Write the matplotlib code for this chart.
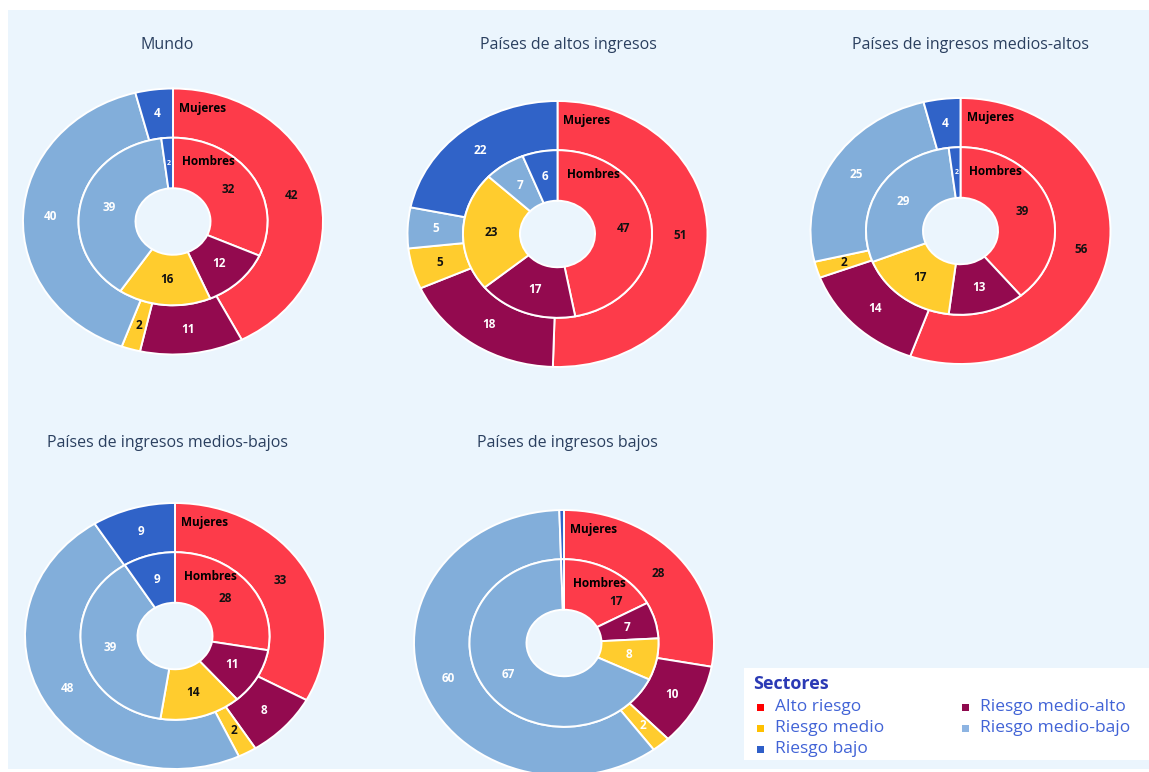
import numpy as np
import matplotlib
matplotlib.use('Agg')
import matplotlib.pyplot as plt
from matplotlib.patches import Rectangle

plt.rcParams['font.family'] = ['Open Sans', 'DejaVu Sans']

W, H = 1149, 772

# datos (porcentajes)
sectores = ['Alto riesgo', 'Riesgo medio-alto', 'Riesgo medio', 'Riesgo medio-bajo', 'Riesgo bajo']
grupos = ['Mundo', 'Países de altos ingresos', 'Países de ingresos medios-altos',
          'Países de ingresos medios-bajos', 'Países de ingresos bajos']

mujeres_mundo = [42, 11, 2, 40, 4]
mujeres_altos = [51, 18, 5, 5, 22]
mujeres_medios_altos = [56, 14, 2, 25, 4]
mujeres_medios_bajos = [33, 8, 2, 48, 9]
mujeres_bajos = [28, 10, 2, 60, 0.5]

hombres_mundo = [32, 12, 16, 39, 2]
hombres_altos = [47, 17, 23, 7, 6]
hombres_medios_altos = [39, 13, 17, 29, 2]
hombres_medios_bajos = [28, 11, 14, 39, 9]
hombres_bajos = [17, 7, 8, 67, 0.5]

mujeres = [mujeres_mundo, mujeres_altos, mujeres_medios_altos, mujeres_medios_bajos, mujeres_bajos]
hombres = [hombres_mundo, hombres_altos, hombres_medios_altos, hombres_medios_bajos, hombres_bajos]

# estilo
colores = ['#FD3B4A', '#930A4F', '#FFCC2E', '#82AEDA', '#3063C8']
colores_leyenda = ['#FF0000', '#8E0A4E', '#FFC000', '#8DB4E2', '#2F5FC8']
texto_oscuro = [True, False, True, False, False]
amarillo_blanco = [False, False, False, False, True]
# etiquetas que plotly desplaza dentro del sector (grafico, anillo, sector)
desplazadas = {(4, 'h', 0): (0.35, 0.31)}

centros = [(173, 221.5), (557.5, 234), (960.5, 231), (175, 636), (564, 643)]
titulos_pos = [(167, 45), (568, 45), (970, 45), (167, 443), (567, 443)]
rx, ry = 150, 133
lim = 1.05

fig = plt.figure(figsize=(W / 100, H / 100), dpi=100, facecolor='white')
fig.patches.append(Rectangle((8 / W, 3 / H), (W - 8) / W, (H - 13) / H,
                             transform=fig.transFigure, facecolor='#EBF5FD',
                             edgecolor='none', zorder=-10))

for i, g in enumerate(grupos):
    cx, cy = centros[i]
    ax = fig.add_axes([(cx - lim * rx) / W, 1 - (cy + lim * ry) / H,
                       2 * lim * rx / W, 2 * lim * ry / H])
    ax.patch.set_alpha(0)
    wp = dict(edgecolor='white', linewidth=1.4)
    wo, _ = ax.pie(mujeres[i], radius=1.0, colors=colores, startangle=90,
                   counterclock=False, wedgeprops=dict(width=0.37, **wp))
    wi, _ = ax.pie(hombres[i], radius=0.63, colors=colores, startangle=90,
                   counterclock=False, wedgeprops=dict(width=0.38, **wp))
    ax.set_aspect('auto')
    ax.set_xlim(-lim, lim)
    ax.set_ylim(-lim, lim)
    ax.axis('off')

    for wedges, vals, rmid, anillo in [(wo, mujeres[i], 0.815, 'm'),
                                       (wi, hombres[i], 0.44, 'h')]:
        for k, (w, v) in enumerate(zip(wedges, vals)):
            if v < 1:
                continue
            ang = np.deg2rad((w.theta1 + w.theta2) / 2)
            x, y = rmid * np.cos(ang), rmid * np.sin(ang)
            if (i, anillo, k) in desplazadas:
                x, y = desplazadas[(i, anillo, k)]
            oscuro = texto_oscuro[k] and not (k == 2 and amarillo_blanco[i])
            fs = 8.5
            if anillo == 'h' and v < 3:
                fs = 5
            ax.text(x, y, f'{v:g}', ha='center', va='center', fontsize=fs,
                    fontweight='bold', color='#111111' if oscuro else 'white')

    ax.text(0.04, 0.85, 'Mujeres', ha='left', va='center', fontsize=8.5,
            fontweight='bold', color='black')
    ax.text(0.06, 0.45, 'Hombres', ha='left', va='center', fontsize=8.5,
            fontweight='bold', color='black')

    tx, ty = titulos_pos[i]
    fig.text(tx / W, 1 - ty / H, g, ha='center', va='center', fontsize=11.5,
             color='#2a3f5f')

# leyenda manual
fig.patches.append(Rectangle((744 / W, (H - 760) / H), (W - 744) / W, 92 / H,
                             transform=fig.transFigure, facecolor='white',
                             edgecolor='none', zorder=5))
fig.text(753 / W, 1 - 684 / H, 'Sectores', ha='left', va='center', fontsize=13,
         fontweight='bold', color='#2B3AB5', zorder=6)
filas = [707, 728, 749]
for n, k in enumerate(range(len(sectores))):
    col, fila = n % 2, n // 2
    mx = 757 if col == 0 else 962
    my = filas[fila]
    fig.patches.append(Rectangle((mx / W, 1 - (my + 3.5) / H), 7 / W, 7 / H,
                                 transform=fig.transFigure,
                                 facecolor=colores_leyenda[k], edgecolor='none',
                                 zorder=6))
    fig.text((mx + 18) / W, 1 - my / H, sectores[k], ha='left', va='center',
             fontsize=12.5, color='#4163D6', zorder=6)

fig.savefig('out.png', dpi=100, facecolor='white')
